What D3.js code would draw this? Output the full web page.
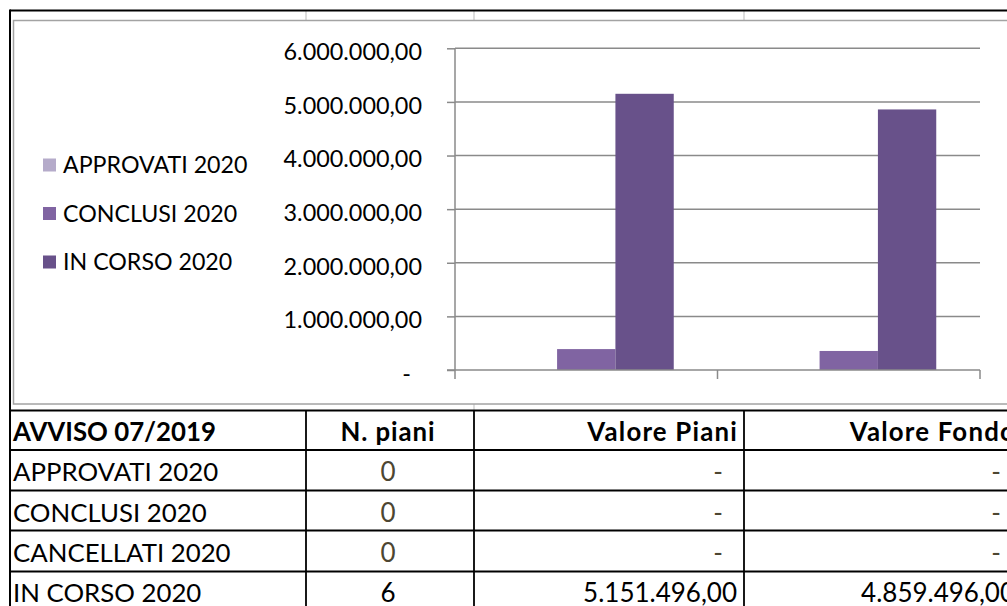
<!DOCTYPE html>
<html>
<head>
<meta charset="utf-8">
<script src="https://cdn.jsdelivr.net/npm/d3@7"></script>
<style>
  html, body { margin: 0; padding: 0; background: #fff; }
  svg { display: block; }
  text { font-family: Lato, "Noto Sans", sans-serif; }
</style>
</head>
<body>
<svg id="chart" width="1007" height="606"></svg>
<script>
// ---------- DATA ----------
const categories = ["Valore Piani", "Valore Fondo"];
const seriesNames = ["APPROVATI 2020", "CONCLUSI 2020", "IN CORSO 2020"];
const approvati2020 = [0, 0];
const conclusi2020 = [390000, 355000];
const inCorso2020 = [5151496, 4859496];
const yTicks = [0, 1000000, 2000000, 3000000, 4000000, 5000000, 6000000];

const tableHeader = ["AVVISO 07/2019", "N. piani", "Valore Piani", "Valore Fondo"];
const tableRowNames = ["APPROVATI 2020", "CONCLUSI 2020", "CANCELLATI 2020", "IN CORSO 2020"];
const tableNPiani = [0, 0, 0, 6];
const tableValorePiani = [0, 0, 0, 5151496];
const tableValoreFondo = [0, 0, 0, 4859496];

// ---------- STYLE ----------
const seriesColors = ["#b5abca", "#8064a2", "#68518a"];
const gridColor = "#8a8a8a";
const oliveText = "#4d4631";

const itLocale = d3.formatLocale({decimal: ",", thousands: ".", grouping: [3], currency: ["", ""]});
const fmt2 = itLocale.format(",.2f");
const fmtAcc = v => v === 0 ? "-" : fmt2(v);

const svg = d3.select("#chart");

// ---------- Excel frame ----------
[306, 474, 744].forEach(x => {
  svg.append("line").attr("x1", x).attr("x2", x).attr("y1", 11).attr("y2", 20)
    .attr("stroke", "#d2d2d2").attr("stroke-width", 1.5);
});
svg.append("line").attr("x1", 474).attr("x2", 474).attr("y1", 404).attr("y2", 410)
  .attr("stroke", "#d2d2d2").attr("stroke-width", 1.5);

svg.append("line").attr("x1", 10).attr("x2", 1007).attr("y1", 10.5).attr("y2", 10.5)
  .attr("stroke", "#000").attr("stroke-width", 2);
svg.append("line").attr("x1", 10).attr("x2", 10).attr("y1", 9.5).attr("y2", 606)
  .attr("stroke", "#000").attr("stroke-width", 2);

svg.append("rect").attr("x", 13.5).attr("y", 20.5).attr("width", 1100).attr("height", 383.5)
  .attr("fill", "#fff").attr("stroke", "#a3a3a3").attr("stroke-width", 1.5);

// ---------- chart ----------
const x0 = d3.scaleBand().domain(categories).range([455, 980]).paddingInner(1/3).paddingOuter(1/6);
const x1 = d3.scaleBand().domain(seriesNames).range([0, x0.bandwidth()]);
const y = d3.scaleLinear().domain([0, 6000000]).range([370, 48.3]);

svg.append("g").selectAll("line").data(yTicks.filter(d => d > 0)).join("line")
  .attr("x1", 455).attr("x2", 980)
  .attr("y1", d => y(d)).attr("y2", d => y(d))
  .attr("stroke", gridColor).attr("stroke-width", 1.5);

const seriesValues = [approvati2020, conclusi2020, inCorso2020];
const barData = [];
categories.forEach((c, ci) => {
  seriesNames.forEach((s, si) => barData.push({c, s, si, v: seriesValues[si][ci]}));
});
svg.append("g").selectAll("rect").data(barData.filter(d => d.v > 0)).join("rect")
  .attr("x", d => x0(d.c) + x1(d.s))
  .attr("width", x1.bandwidth())
  .attr("y", d => y(d.v))
  .attr("height", d => y(0) - y(d.v))
  .attr("fill", d => seriesColors[d.si]);

const yAxis = svg.append("g").attr("transform", "translate(455,0)")
  .call(d3.axisLeft(y).tickValues(yTicks).tickSize(8).tickPadding(25).tickFormat(fmtAcc));
yAxis.select(".domain").attr("stroke", gridColor).attr("stroke-width", 1.5).attr("d", "M0,48.3V370");
yAxis.selectAll(".tick line").attr("stroke", gridColor).attr("stroke-width", 1.5);
yAxis.selectAll(".tick text")
  .attr("font-size", 23.4).attr("fill", "#000").attr("dy", "0.48em")
  .attr("dx", d => d === 0 ? -11 : 0);

const xEdges = [455].concat(categories.map(c => x0(c) + x0.bandwidth() + x0.step() * x0.paddingOuter()));
const xAxisG = svg.append("g");
xAxisG.append("line").attr("x1", 447).attr("x2", 980).attr("y1", y(0)).attr("y2", y(0))
  .attr("stroke", gridColor).attr("stroke-width", 1.5);
xAxisG.selectAll("line.tk").data(xEdges).join("line").attr("class", "tk")
  .attr("x1", d => d).attr("x2", d => d).attr("y1", y(0)).attr("y2", y(0) + 9)
  .attr("stroke", gridColor).attr("stroke-width", 1.5);

const legend = svg.append("g").selectAll("g").data(seriesNames).join("g")
  .attr("transform", (d, i) => `translate(43,${165 + i * 48.5})`);
legend.append("rect").attr("x", 0).attr("y", -6.5).attr("width", 13).attr("height", 13)
  .attr("fill", (d, i) => seriesColors[i]);
legend.append("text").attr("x", 20).attr("y", 0).attr("dy", "0.36em")
  .attr("font-size", 23.2).attr("fill", "#000").text(d => d);

// ---------- table ----------
const colX = [10, 306, 474, 744, 1022];
const rowY = [410.5, 450, 490.5, 530.5, 571.5, 612];
const tbl = svg.append("g");
rowY.forEach(yy => tbl.append("line").attr("x1", 9).attr("x2", 1007).attr("y1", yy).attr("y2", yy)
  .attr("stroke", "#000").attr("stroke-width", 2));
colX.slice(1).forEach(xx => tbl.append("line").attr("x1", xx).attr("x2", xx).attr("y1", 410).attr("y2", 606)
  .attr("stroke", "#000").attr("stroke-width", 1.8));

const fs = 26;
const baseOff = 30;
tbl.append("text").attr("x", 13).attr("y", rowY[0] + baseOff).attr("font-size", 25.8).attr("font-weight", "bold").text(tableHeader[0]);
tbl.append("text").attr("x", (colX[1] + colX[2]) / 2 - 2).attr("y", rowY[0] + baseOff).attr("text-anchor", "middle")
  .attr("font-size", 25.8).attr("font-weight", "bold").attr("letter-spacing", 0.9).text(tableHeader[1]);
tbl.append("text").attr("x", colX[3] - 6).attr("y", rowY[0] + baseOff).attr("text-anchor", "end")
  .attr("font-size", 25.8).attr("font-weight", "bold").attr("letter-spacing", 1.2).text(tableHeader[2]);
tbl.append("text").attr("x", colX[4] - 6).attr("y", rowY[0] + baseOff).attr("text-anchor", "end")
  .attr("font-size", 25.8).attr("font-weight", "bold").attr("letter-spacing", 1.2).text(tableHeader[3]);

tableRowNames.forEach((name, i) => {
  const by = Math.min(rowY[i + 1] + baseOff + 1, 601.5);
  tbl.append("text").attr("x", 13).attr("y", by).attr("font-size", 25.8).attr("fill", "#000").text(name);
  tbl.append("text").attr("x", (colX[1] + colX[2]) / 2 - 2).attr("y", by).attr("text-anchor", "middle")
    .attr("font-size", fs).attr("fill", tableNPiani[i] === 0 ? oliveText : "#000").text(tableNPiani[i]);
  [[tableValorePiani, colX[3]], [tableValoreFondo, colX[4]]].forEach(([arr, right]) => {
    const v = arr[i];
    tbl.append("text").attr("x", v === 0 ? right - 21 : right - 7).attr("y", by).attr("text-anchor", "end")
      .attr("font-size", fs).attr("fill", v === 0 ? oliveText : "#000").text(fmtAcc(v));
  });
});
</script>
</body>
</html>
